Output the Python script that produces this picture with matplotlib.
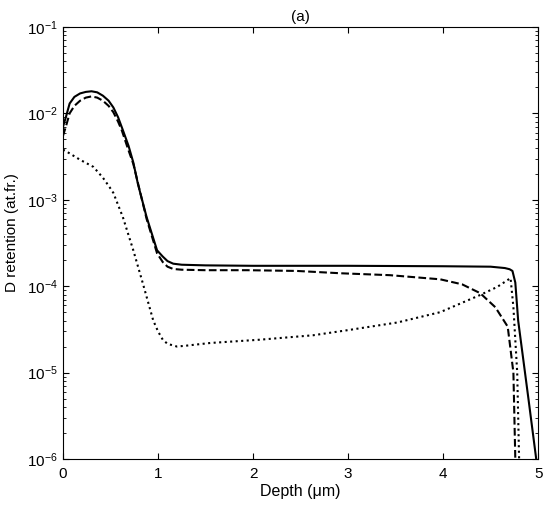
import matplotlib
matplotlib.use('Agg')
from matplotlib import pyplot as plt
from matplotlib.ticker import LogLocator, NullFormatter

plt.rcParams['font.family'] = ['Liberation Sans', 'DejaVu Sans']
plt.rcParams['mathtext.default'] = 'regular'
plt.rcParams['font.size'] = 11

# solid curve
solid_x = [0, 0.03, 0.07, 0.12, 0.18, 0.24, 0.3, 0.36, 0.42, 0.48, 0.53, 0.58, 0.63, 0.69,
           0.74, 0.79, 0.88, 0.99, 1.05, 1.1, 1.16, 1.25, 1.5, 2.0, 3.0, 4.0, 4.5, 4.65,
           4.7, 4.73, 4.76, 4.79, 4.9, 4.98]
solid_y = [7e-3, 9e-3, 1.3e-2, 1.55e-2, 1.7e-2, 1.77e-2, 1.8e-2, 1.75e-2, 1.6e-2, 1.4e-2,
           1.17e-2, 9e-3, 6.4e-3, 4.2e-3, 2.7e-3, 1.5e-3, 6.3e-4, 2.6e-4, 2.2e-4, 1.95e-4,
           1.82e-4, 1.77e-4, 1.74e-4, 1.72e-4, 1.72e-4, 1.7e-4, 1.68e-4, 1.62e-4, 1.57e-4,
           1.5e-4, 1.1e-4, 4e-5, 4.8e-6, 1e-6]

# dashed curve
dashed_x = [0, 0.03, 0.07, 0.12, 0.18, 0.24, 0.3, 0.36, 0.42, 0.48, 0.53, 0.58, 0.62, 0.68,
            0.74, 0.88, 0.99, 1.05, 1.1, 1.16, 1.25, 1.5, 1.94, 2.46, 2.92, 3.44, 3.97, 4.2,
            4.39, 4.55, 4.68, 4.74, 4.76]
dashed_y = [5.5e-3, 7e-3, 1e-2, 1.22e-2, 1.4e-2, 1.52e-2, 1.57e-2, 1.52e-2, 1.4e-2,
            1.22e-2, 1.03e-2, 8e-3, 6.3e-3, 4e-3, 2.6e-3, 6e-4, 2.4e-4, 1.9e-4, 1.68e-4,
            1.58e-4, 1.55e-4, 1.53e-4, 1.53e-4, 1.5e-4, 1.41e-4, 1.34e-4, 1.2e-4, 1.05e-4,
            8.3e-5, 5.7e-5, 3.4e-5, 1e-5, 1e-6]

# dotted curve
dotted_x = [0, 0.04, 0.18, 0.32, 0.42, 0.49, 0.53, 0.63, 0.74, 0.84, 0.95, 1.0, 1.05, 1.1,
            1.2, 1.3, 1.55, 2.07, 2.63, 3.0, 3.52, 3.97, 4.39, 4.57, 4.71, 4.74, 4.78, 4.8]
dotted_y = [3.8e-3, 3.6e-3, 2.9e-3, 2.4e-3, 1.8e-3, 1.4e-3, 1.2e-3, 6.3e-4, 2.6e-4, 1.08e-4,
            4e-5, 3e-5, 2.4e-5, 2.15e-5, 2.0e-5, 2.05e-5, 2.2e-5, 2.4e-5, 2.7e-5, 3.1e-5,
            3.8e-5, 5e-5, 7.9e-5, 9.8e-5, 1.24e-4, 5.7e-5, 1e-5, 1e-6]

fig = plt.figure(figsize=(5.43, 5.08), dpi=100)
ax = fig.add_axes([0.116, 0.0965, 0.875, 0.8505])

ax.plot(solid_x, solid_y, color='black', linestyle='-', linewidth=1.5)
ax.plot(dashed_x, dashed_y, color='black', linestyle='--', linewidth=1.5)
ax.plot(dotted_x, dotted_y, color='black', linestyle=':', linewidth=1.5)

ax.set_yscale('log')
ax.set_xlim(0, 5)
ax.set_ylim(1e-6, 1e-1)
ax.yaxis.set_major_locator(LogLocator(base=10, numticks=10))
ax.yaxis.set_minor_locator(LogLocator(base=10, subs=range(2, 10), numticks=10))
ax.yaxis.set_minor_formatter(NullFormatter())

ax.tick_params(which='both', direction='in', top=True, right=True, labelsize=11)
ax.tick_params(which='major', length=4)
ax.tick_params(which='minor', length=2)
ax.tick_params(axis='x', which='major', pad=6)

ax.set_xlabel('Depth (μm)', fontsize=11.5, labelpad=2)
ax.set_ylabel('D retention (at.fr.)', fontsize=11)
ax.yaxis.set_label_coords(-0.092, 0.525)
ax.set_title('(a)', fontsize=11, pad=4)

fig.savefig('out.png', dpi=100)
